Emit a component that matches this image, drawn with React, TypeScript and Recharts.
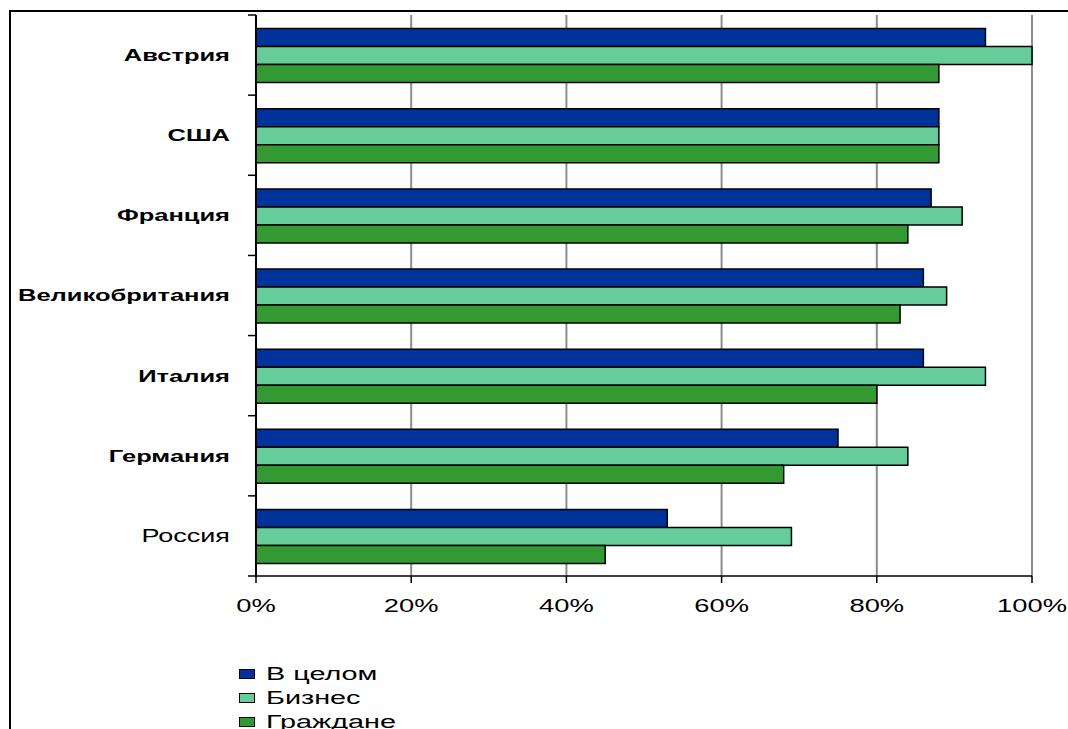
import React from 'react';
import { BarChart, Bar, XAxis, YAxis, CartesianGrid, Legend } from 'recharts';

// Chart values (percent)
const countries = ['Австрия', 'США', 'Франция', 'Великобритания', 'Италия', 'Германия', 'Россия'];
const overall = [94, 88, 87, 86, 86, 75, 53];
const business = [100, 88, 91, 89, 94, 84, 69];
const citizens = [88, 88, 84, 83, 80, 68, 45];

const seriesNames = ['В целом', 'Бизнес', 'Граждане'];
const seriesKeys = ['overall', 'business', 'citizens'];
const COLORS = ['#003399', '#66CC99', '#339933'];

const xTicks = [0, 20, 40, 60, 80, 100];
const plainLabels = ['Россия'];

const FONT = "'Liberation Sans', Arial, sans-serif";
const Y_TICK_SIZE = 6;
const Y_TICK_MARGIN = 20;

const data = countries.map((name, i) => ({
  name,
  overall: overall[i],
  business: business[i],
  citizens: citizens[i],
}));

// category label plus Excel-style tick marks on the band edges
const CountryTick = ({ x, y, payload, index, visibleTicksCount }: any) => {
  const plain = plainLabels.includes(payload.value);
  const half = payload.offset || 40;
  const axisX = x + Y_TICK_SIZE + Y_TICK_MARGIN;
  const last = index === visibleTicksCount - 1;
  return (
    <g>
      <line x1={axisX - 8} x2={axisX} y1={y - half} y2={y - half} stroke="#000" strokeWidth={1.5} />
      {last && <line x1={axisX - 8} x2={axisX} y1={y + half} y2={y + half} stroke="#000" strokeWidth={1.5} />}
      <g transform={`translate(${x},${y}) scale(1.5,1)`}>
        <text
          x={0}
          y={0}
          dy="0.35em"
          textAnchor="end"
          fontSize={plain ? 18 : 17}
          fontWeight={plain ? 400 : 700}
          fill="#000"
          fontFamily={FONT}
        >
          {payload.value}
        </text>
      </g>
    </g>
  );
};

const PercentTick = ({ x, y, payload }: any) => (
  <g transform={`translate(${x},${y}) scale(1.52,1)`}>
    <text x={0} y={0} dy="0.71em" textAnchor="middle" fontSize={18} fill="#000" fontFamily={FONT}>
      {payload.value}%
    </text>
  </g>
);

const LegendBox = () => (
  <div style={{ height: 104, boxSizing: 'border-box', paddingTop: 26, fontFamily: FONT }}>
    {seriesNames.map((n, i) => (
      <div key={n} style={{ height: 24, display: 'flex', alignItems: 'center' }}>
        <span
          style={{
            display: 'inline-block',
            width: 14,
            height: 8,
            border: '1px solid #000',
            background: COLORS[i],
            marginRight: 11,
          }}
        />
        <span
          style={{
            display: 'inline-block',
            fontSize: 18,
            color: '#000',
            transform: 'scaleX(1.6)',
            transformOrigin: 'left center',
            whiteSpace: 'nowrap',
          }}
        >
          {n}
        </span>
      </div>
    ))}
  </div>
);

export default function App() {
  return (
    <div
      style={{
        position: 'absolute',
        left: 0,
        top: 0,
        width: 1068,
        height: 729,
        overflow: 'hidden',
        background: '#fff',
      }}
    >
      {/* outer chart frame, only top and left edges are visible */}
      <div
        style={{
          position: 'absolute',
          left: 9,
          top: 10,
          width: 1100,
          height: 800,
          borderLeft: '2px solid #000',
          borderTop: '2px solid #000',
        }}
      />
      <div style={{ position: 'absolute', left: 0, top: 0 }}>
        <BarChart
          width={1068}
          height={740}
          data={data}
          layout="vertical"
          margin={{ top: 15, right: 36, left: 0, bottom: 0 }}
          barCategoryGap="17%"
          barGap={0}
        >
          <CartesianGrid horizontal={false} stroke="#8c8c8c" strokeWidth={2} />
          <YAxis
            type="category"
            dataKey="name"
            width={256}
            tickLine={false}
            tickSize={Y_TICK_SIZE}
            tickMargin={Y_TICK_MARGIN}
            axisLine={{ stroke: '#000', strokeWidth: 2 }}
            tick={<CountryTick />}
            interval={0}
          />
          <XAxis
            type="number"
            domain={[0, 100]}
            ticks={xTicks}
            height={60}
            tickSize={7}
            tickMargin={16}
            axisLine={{ stroke: '#000', strokeWidth: 1.5 }}
            tickLine={{ stroke: '#000', strokeWidth: 1.5 }}
            tick={<PercentTick />}
          />
          <Legend
            layout="horizontal"
            verticalAlign="bottom"
            align="left"
            content={<LegendBox />}
            wrapperStyle={{ left: 239, width: 300 }}
          />
          {seriesKeys.map((k, i) => (
            <Bar
              key={k}
              dataKey={k}
              name={seriesNames[i]}
              fill={COLORS[i]}
              stroke="#000"
              strokeWidth={1.5}
              isAnimationActive={false}
            />
          ))}
        </BarChart>
      </div>
    </div>
  );
}
